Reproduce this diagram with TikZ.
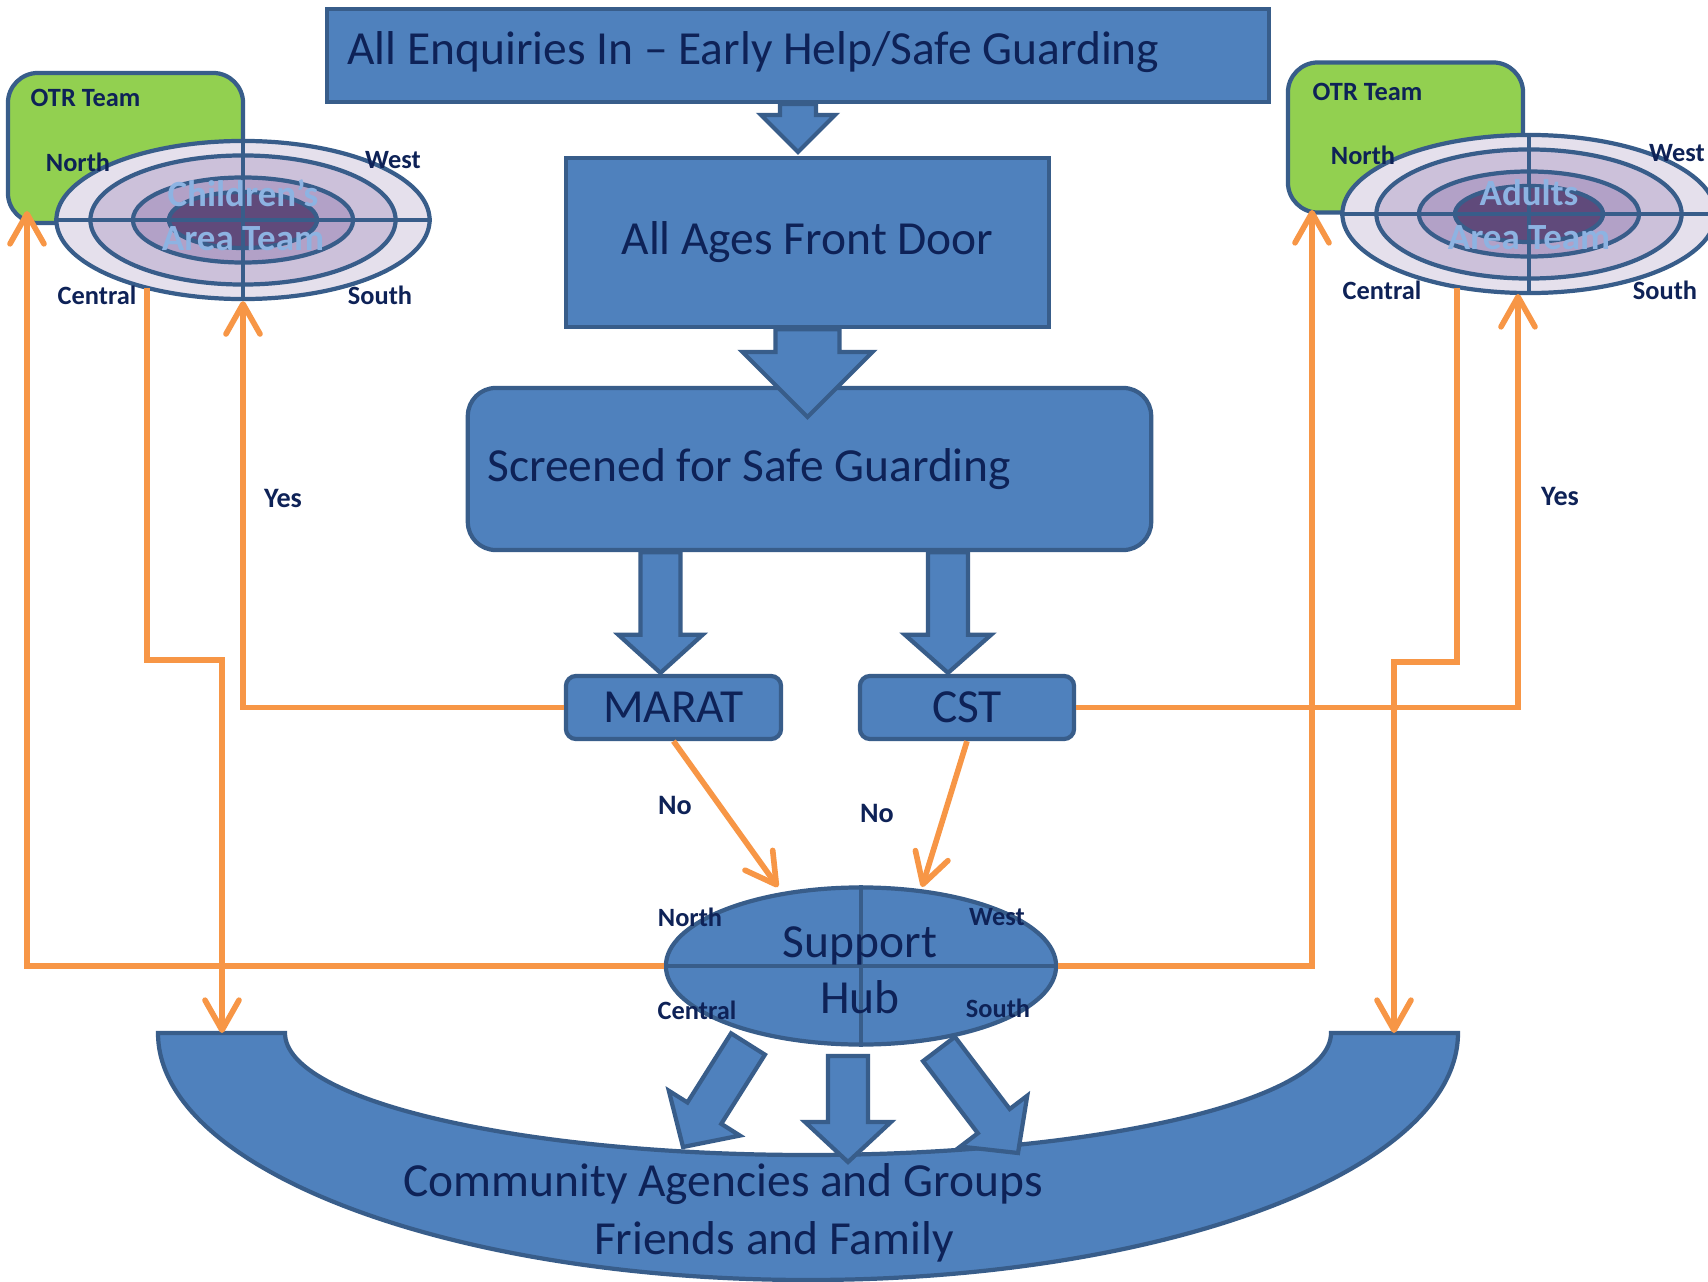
\documentclass[tikz,border=0pt]{standalone}
\usepackage{fontspec}
\setmainfont{Carlito}
\usepackage{xcolor}
\usepackage{tikz}
\usetikzlibrary{calc,arrows.meta,positioning,shapes.geometric}
\definecolor{boxblue}{HTML}{4F81BD}
\definecolor{bordx}{HTML}{385D8A}
\definecolor{navyx}{HTML}{0E2257}
\definecolor{orangex}{HTML}{F79646}
\definecolor{greenx}{HTML}{92D050}
\definecolor{ringa}{HTML}{E5E0EC}
\definecolor{ringb}{HTML}{CCC1DA}
\definecolor{ringc}{HTML}{B2A1C7}
\definecolor{ringd}{HTML}{604A7B}
\definecolor{skyx}{HTML}{8DB3E2}
\tikzset{
  bx/.style={draw=bordx,fill=boxblue,line width=1.2pt,inner sep=0pt,text=navyx,font=\fontsize{13.5}{16}\selectfont},
  txt/.style={text=navyx,font=\fontsize{13.5}{16}\selectfont,inner sep=0pt},
  fat/.style={draw=bordx,fill=boxblue,line width=1.2pt},
  otr/.style={draw=bordx,fill=greenx,line width=1.2pt,rounded corners=0.3cm,minimum width=2.35cm,minimum height=1.5cm},
  ring/.style={ellipse,draw=bordx,line width=1.2pt,inner sep=0pt},
  cross/.style={draw=bordx,line width=1.2pt},
  lbl/.style={text=navyx,font=\bfseries\fontsize{7.5}{9}\selectfont,inner sep=0pt},
  yn/.style={text=navyx,font=\bfseries\fontsize{8}{10}\selectfont,inner sep=0pt},
  team/.style={text=skyx,font=\bfseries\fontsize{10.5}{12.5}\selectfont,align=center,inner sep=0pt},
  ol/.style={draw=orangex,line width=1.6pt},
  oarr/.style={ol,-{Straight Barb[length=3mm,width=3.4mm,round]}}
}
% block arrow: tail, tip, shaft half width, head half width, head length
\newcommand\fatarrow[5]{%
  \coordinate (fa-h) at ($(#2)!#5!(#1)$);
  \draw[fat] ($(#1)!#3!90:(#2)$) -- ($(fa-h)!#3!90:(#2)$) -- ($(fa-h)!#4!90:(#2)$) -- (#2)
    -- ($(fa-h)!#4!-90:(#2)$) -- ($(fa-h)!#3!-90:(#2)$) -- ($(#1)!#3!-90:(#2)$) -- cycle;}

\begin{document}
\begin{tikzpicture}[x=0.01cm,y=-0.01cm]
\useasboundingbox (0,0) rectangle (1708,1282);
\fill[white] (0,0) rectangle (1708,1282);
\clip (0,0) rectangle (1708,1282);

% community half ring
\draw[fat] (158,1033) arc[start angle=180,end angle=0,x radius=650,y radius=247]
  -- (1331,1033) arc[start angle=0,end angle=180,x radius=523,y radius=122] -- cycle;
\coordinate (hl1) at (748,1044); \coordinate (hl2) at (683,1147);
\coordinate (hm1) at (848,1056); \coordinate (hm2) at (848,1162);
\coordinate (hr1) at (939,1049); \coordinate (hr2) at (1018,1153);
\fatarrow{hl1}{hl2}{2mm}{4.2mm}{4mm}
\fatarrow{hm1}{hm2}{2mm}{4.3mm}{4mm}
\fatarrow{hr1}{hr2}{2mm}{4.2mm}{4mm}

% main column
\node[bx,minimum width=9.42cm,minimum height=0.93cm] (enq) at (798,55.5) {};
\node[txt,anchor=west] (enq-t) at ($(enq.west)+(22,-3)$) {All Enquiries In -- Early Help/Safe Guarding};
\node[bx,minimum width=4.83cm,minimum height=1.69cm] (front) at (807.5,242.5) {All Ages Front Door};
\node[bx,minimum width=6.83cm,minimum height=1.62cm,rounded corners=0.28cm] (screen) at (809.5,469) {};
\node[txt,anchor=west] (screen-t) at ($(screen.west)+(21,0)$) {Screened for Safe Guarding};
\node[bx,minimum width=2.15cm,minimum height=0.63cm,rounded corners=0.1cm] (marat) at (673.5,707.5) {MARAT};
\node[bx,minimum width=2.14cm,minimum height=0.63cm,rounded corners=0.1cm] (cst) at (967,707.5) {CST};

\coordinate (fdtip) at (798,152);
\fatarrow{enq.south}{fdtip}{1.8mm}{3.7mm}{3.7mm}
\coordinate (sctip) at (807.5,417);
\fatarrow{front.south}{sctip}{3.2mm}{6.5mm}{6.5mm}
\coordinate (mtip) at ($(marat.north)+(-13,-1)$);
\coordinate (ctip) at ($(cst.north)+(-19,-1)$);
\fatarrow{screen.south -| mtip}{mtip}{2mm}{4.2mm}{3.8mm}
\fatarrow{screen.south -| ctip}{ctip}{2mm}{4.3mm}{3.8mm}

% OTR teams and area teams
\node[otr] (otrL) at (125.5,148) {};
\node[otr] (otrR) at (1405.5,137.5) {};
\node[lbl,anchor=west] (otrL-t) at (30,98) {OTR Team};
\node[lbl,anchor=west] (otrR-t) at (1312,92) {OTR Team};
\foreach \nm/\cx/\cy in {catL/243/220,catR/1529/214}{
  \foreach \w/\h/\c [count=\i] in {3.73/1.58/ringa,3.05/1.29/ringb,2.20/0.85/ringc,1.48/0.56/ringd}
    \node[ring,fill=\c,minimum width=\w cm,minimum height=\h cm] (\nm-\i) at (\cx,\cy) {};
  \draw[cross] (\nm-1.north) -- (\nm-1.south) (\nm-1.west) -- (\nm-1.east);
}
\node[team] (catL-t) at (243,215) {Children's\\Area Team};
\node[team] (catR-t) at (1529,215) {Adults\\Area Team};
\node[lbl] (catL-n) at (78,162) {North};
\node[lbl] (catL-w) at (393,160) {West};
\node[lbl] (catL-c) at (97,295) {Central};
\node[lbl] (catL-s) at (380,295) {South};
\node[lbl] (catR-n) at (1363,155) {North};
\node[lbl] (catR-w) at (1677,153) {West};
\node[lbl] (catR-c) at (1382,290) {Central};
\node[lbl] (catR-s) at (1665,290) {South};

% orange routes
\coordinate (yesR) at (1518,294);
\coordinate (noL) at (778,887); \coordinate (noR) at (922,887);
\coordinate (upL) at (27,211); \coordinate (upR) at (1312,210);
\coordinate (cenL) at (147,288); \coordinate (bendL) at (222,660); \coordinate (comL) at (222,1033);
\coordinate (cenR) at (1457,288); \coordinate (bendR) at (1394,662); \coordinate (comR) at (1394,1033);
\draw[oarr] (marat.west) -| (catL-1.south);
\draw[oarr] (cst.east) -| (yesR);
\draw[oarr] (marat.south) -- (noL);
\draw[oarr] (cst.south) -- (noR);
\draw[oarr] (cenL) |- (bendL) -- (comL);
\draw[oarr] (cenR) |- (bendR) -- (comR);
\node[yn] (yesL-t) at (283,498) {Yes};
\node[yn] (yesR-t) at (1560,496) {Yes};
\node[yn] (noL-t) at (675,805) {No};
\node[yn] (noR-t) at (877,813) {No};

% support hub
\node[ring,fill=boxblue,minimum width=3.9cm,minimum height=1.57cm] (hub) at (861,966) {};
\draw[oarr] (hub.west) -| (upL);
\draw[oarr] (hub.east) -| (upR);
\draw[cross] (hub.north) -- (hub.south) (hub.west) -- (hub.east);
\node[txt,align=center] (hub-t) at (860,970) {Support\\Hub};
\node[lbl] (hub-n) at (690,917) {North};
\node[lbl] (hub-w) at (997,917) {West};
\node[lbl] (hub-c) at (697,1010) {Central};
\node[lbl] (hub-s) at (998,1008) {South};

\node[txt] (comm1) at (723,1184) {Community Agencies and Groups};
\node[txt] (comm2) at (774,1242) {Friends and Family};
\end{tikzpicture}
\end{document}
